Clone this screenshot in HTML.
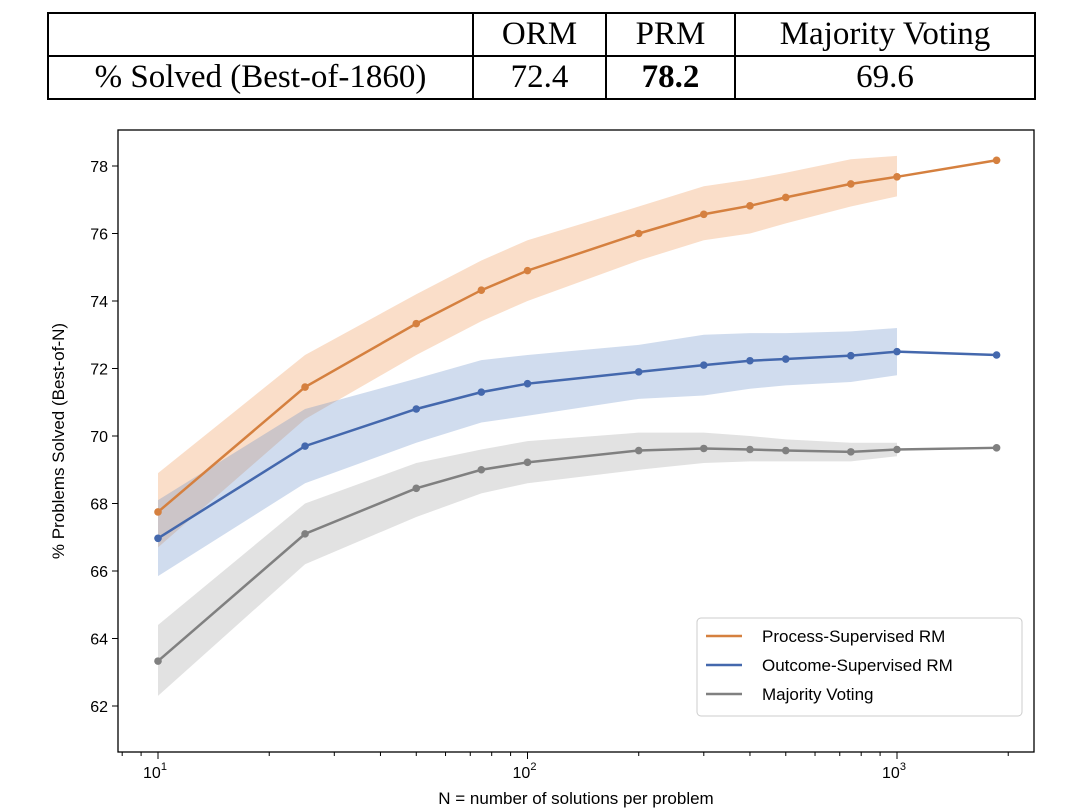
<!DOCTYPE html>
<html><head><meta charset="utf-8"><style>
body{margin:0;background:#fff;width:1080px;height:811px;overflow:hidden;font-family:"Liberation Sans",sans-serif}
table{position:absolute;left:47px;top:12px;border-collapse:collapse;font-family:"Liberation Serif",serif;font-size:33px}
td{border:2px solid #000;height:41px;padding:0;text-align:center}
</style></head><body>
<table>
<tr><td style="width:423px"></td><td style="width:131px">ORM</td><td style="width:127px">PRM</td><td style="width:298px">Majority Voting</td></tr>
<tr><td>% Solved (Best-of-1860)</td><td>72.4</td><td style="font-weight:bold">78.2</td><td>69.6</td></tr>
</table>
<svg id="c" width="1080" height="811" style="position:absolute;left:0;top:0"></svg>
<script>
const nValues=[10,25,50,75,100,200,300,400,500,750,1000,1860];
const prm=[67.75,71.45,73.33,74.32,74.9,76.0,76.57,76.82,77.07,77.47,77.68,78.17];
const orm=[66.97,69.7,70.8,71.3,71.55,71.9,72.1,72.23,72.28,72.38,72.5,72.4];
const mv=[63.33,67.1,68.45,69.0,69.22,69.57,69.63,69.6,69.57,69.53,69.6,69.65];
const prmLo=[66.7,70.5,72.4,73.4,74.0,75.2,75.8,76.0,76.3,76.8,77.1];
const prmHi=[68.9,72.4,74.2,75.2,75.8,76.8,77.4,77.6,77.8,78.2,78.3];
const ormLo=[65.85,68.6,69.8,70.4,70.6,71.1,71.2,71.4,71.5,71.6,71.8];
const ormHi=[68.1,70.8,71.7,72.25,72.4,72.7,73.0,73.05,73.05,73.1,73.2];
const mvLo=[62.3,66.2,67.6,68.3,68.6,69.0,69.2,69.25,69.25,69.25,69.4];
const mvHi=[64.4,68.0,69.2,69.6,69.85,70.1,70.1,70.0,69.9,69.8,69.8];
const yTicks=[62,64,66,68,70,72,74,76,78];
const xTicks=[1,2,3];
const NS="http://www.w3.org/2000/svg",svg=document.getElementById('c');
const X=n=>158+369.5*(Math.log10(n)-1), Y=v=>706-(v-62)*33.75;
function el(t,a,p){const e=document.createElementNS(NS,t);for(const k in a)e.setAttribute(k,a[k]);(p||svg).appendChild(e);return e;}
const series=[{v:prm,lo:prmLo,hi:prmHi,c:'#d5803f',b:'rgba(242,160,100,0.35)',n:'prm'},{v:orm,lo:ormLo,hi:ormHi,c:'#4468ad',b:'rgba(100,140,200,0.3)',n:'orm'},{v:mv,lo:mvLo,hi:mvHi,c:'#808080',b:'rgba(150,150,150,0.28)',n:'mv'}];
series.forEach(s=>{let p=s.hi.map((v,i)=>X(nValues[i])+','+Y(v));for(let i=s.lo.length-1;i>=0;i--)p.push(X(nValues[i])+','+Y(s.lo[i]));
const b=el('polygon',{points:p.join(' '),fill:s.b});});
series.forEach(s=>{const l=el('polyline',{points:s.v.map((v,i)=>X(nValues[i])+','+Y(v)).join(' '),fill:'none',stroke:s.c,'stroke-width':2.5});

s.v.forEach((v,i)=>{const c=el('circle',{cx:X(nValues[i]),cy:Y(v),r:3.8,fill:s.c});});});
el('rect',{x:118,y:130,width:916,height:622,fill:'none',stroke:'#000','stroke-width':1.3});
yTicks.forEach(t=>{el('line',{x1:112,x2:118,y1:Y(t),y2:Y(t),stroke:'#000'});const tx=el('text',{x:108,y:Y(t)+6,'text-anchor':'end','font-size':16});tx.textContent=t;});
xTicks.forEach(e=>{const x=X(Math.pow(10,e));el('line',{x1:x,x2:x,y1:752,y2:759,stroke:'#000'});const tx=el('text',{x:x-3,y:778,'text-anchor':'middle','font-size':16});tx.innerHTML='10<tspan dy="-8" font-size="11">'+e+'</tspan>';});
for(let d=0;d<4;d++)for(let m=2;m<10;m++){const n=m*Math.pow(10,d);if(n<7||n>2500)continue;const x=X(n);if(x<118||x>1034)continue;el('line',{x1:x,x2:x,y1:752,y2:756,stroke:'#000'});}
let t=el('text',{x:576,y:804,'text-anchor':'middle','font-size':17});t.textContent='N = number of solutions per problem';
t=el('text',{x:0,y:0,'text-anchor':'middle','font-size':17,transform:'translate(64,441) rotate(-90)'});t.textContent='% Problems Solved (Best-of-N)';
const lg=el('g',{});
el('rect',{x:697,y:618,width:325,height:98,rx:4,fill:'#fff',stroke:'#ccc'},lg);
const names=['Process-Supervised RM','Outcome-Supervised RM','Majority Voting'];
series.forEach((s,i)=>{const y=636+i*29;el('line',{x1:706,x2:742,y1:y,y2:y,stroke:s.c,'stroke-width':2.5},lg);const tx=el('text',{x:762,y:y+6,'font-size':17},lg);tx.textContent=names[i];});
</script>
</body></html>
